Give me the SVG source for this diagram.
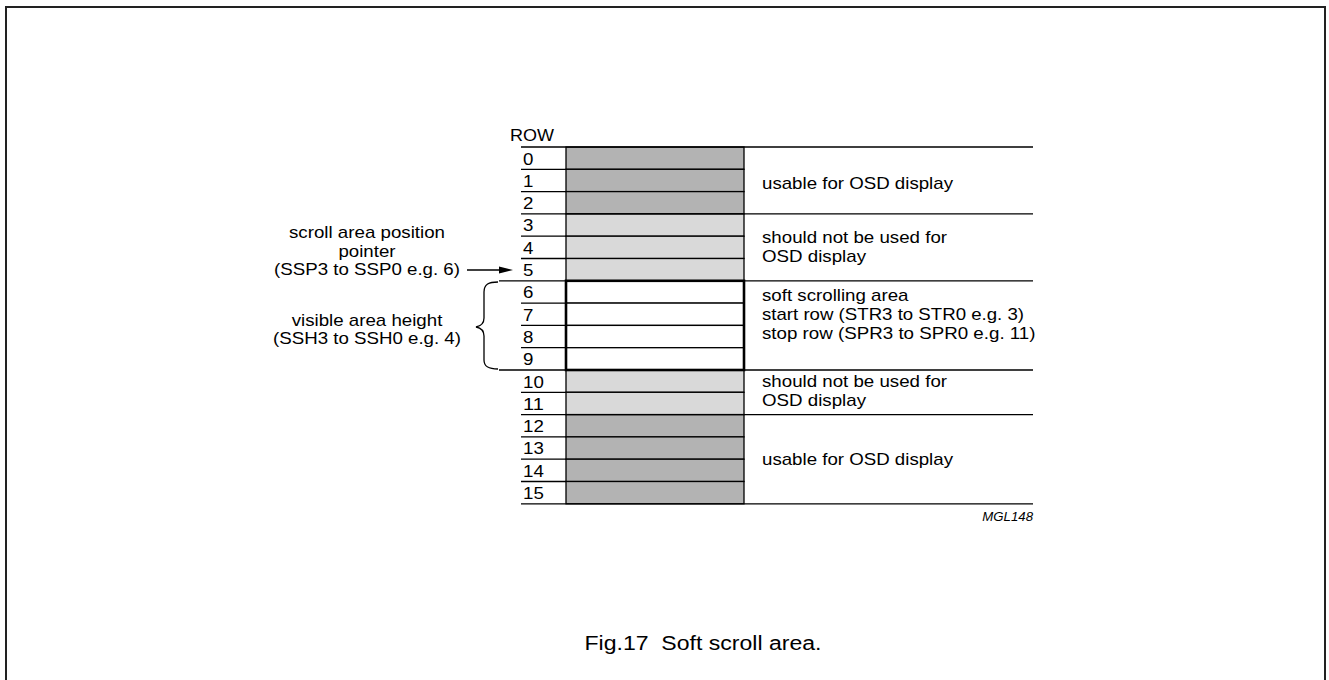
<svg xmlns="http://www.w3.org/2000/svg" width="1329" height="680" viewBox="0 0 1329 680">
<style>
text{font-family:"Liberation Sans",Arial,sans-serif;font-size:17px;fill:#000}
.ln{stroke:#000;stroke-width:1.3;fill:none}
.dk{fill:#b3b3b3;stroke:#000;stroke-width:1.3}
.lt{fill:#d9d9d9;stroke:#000;stroke-width:1.3}
.wh{fill:#fff;stroke:#000;stroke-width:1.3}
.mid{text-anchor:middle}
</style>
<rect width="1329" height="680" fill="#fff"/>
<path d="M6,680 V7 H1325 V680" fill="none" stroke="#222" stroke-width="2"/>

<g id="rows">
<text x="510" y="141" textLength="44" lengthAdjust="spacingAndGlyphs">ROW</text>
<rect class="dk" x="566" y="147" width="178" height="22.3"/>
<rect class="dk" x="566" y="169.3" width="178" height="22.3"/>
<rect class="dk" x="566" y="191.6" width="178" height="22.3"/>
<rect class="lt" x="566" y="213.9" width="178" height="22.3"/>
<rect class="lt" x="566" y="236.2" width="178" height="22.3"/>
<rect class="lt" x="566" y="258.5" width="178" height="22.3"/>
<rect class="wh" x="566" y="280.8" width="178" height="22.3"/>
<rect class="wh" x="566" y="303.1" width="178" height="22.3"/>
<rect class="wh" x="566" y="325.4" width="178" height="22.3"/>
<rect class="wh" x="566" y="347.7" width="178" height="22.3"/>
<rect class="lt" x="566" y="370" width="178" height="22.3"/>
<rect class="lt" x="566" y="392.3" width="178" height="22.3"/>
<rect class="dk" x="566" y="414.6" width="178" height="22.3"/>
<rect class="dk" x="566" y="436.9" width="178" height="22.3"/>
<rect class="dk" x="566" y="459.2" width="178" height="22.3"/>
<rect class="dk" x="566" y="481.5" width="178" height="22.3"/>
<rect x="566" y="280.8" width="178" height="89.2" fill="none" stroke="#000" stroke-width="2.6"/>
<path class="ln" d="M521,147 H1033 M521,169.3 H566 M521,191.6 H566 M521,213.9 H1033 M521,236.2 H566 M521,258.5 H566 M499,280.8 H1033 M521,303.1 H566 M521,325.4 H566 M521,347.7 H566 M499,370 H1033 M521,392.3 H566 M521,414.6 H1033 M521,436.9 H566 M521,459.2 H566 M521,481.5 H566 M521,503.8 H1033"/>
<text x="523" y="164.5" textLength="10.4" lengthAdjust="spacingAndGlyphs">0</text>
<text x="523" y="186.8" textLength="10.4" lengthAdjust="spacingAndGlyphs">1</text>
<text x="523" y="209.1" textLength="10.4" lengthAdjust="spacingAndGlyphs">2</text>
<text x="523" y="231.4" textLength="10.4" lengthAdjust="spacingAndGlyphs">3</text>
<text x="523" y="253.7" textLength="10.4" lengthAdjust="spacingAndGlyphs">4</text>
<text x="523" y="276" textLength="10.4" lengthAdjust="spacingAndGlyphs">5</text>
<text x="523" y="298.3" textLength="10.4" lengthAdjust="spacingAndGlyphs">6</text>
<text x="523" y="320.6" textLength="10.4" lengthAdjust="spacingAndGlyphs">7</text>
<text x="523" y="342.9" textLength="10.4" lengthAdjust="spacingAndGlyphs">8</text>
<text x="523" y="365.2" textLength="10.4" lengthAdjust="spacingAndGlyphs">9</text>
<text x="523" y="387.5" textLength="20.8" lengthAdjust="spacingAndGlyphs">10</text>
<text x="523" y="409.8" textLength="20.8" lengthAdjust="spacingAndGlyphs">11</text>
<text x="523" y="432.1" textLength="20.8" lengthAdjust="spacingAndGlyphs">12</text>
<text x="523" y="454.4" textLength="20.8" lengthAdjust="spacingAndGlyphs">13</text>
<text x="523" y="476.7" textLength="20.8" lengthAdjust="spacingAndGlyphs">14</text>
<text x="523" y="499" textLength="20.8" lengthAdjust="spacingAndGlyphs">15</text>
</g>

<g id="labels-right">
<text x="762" y="189" textLength="191" lengthAdjust="spacingAndGlyphs">usable for OSD display</text>
<text x="762" y="243" textLength="185" lengthAdjust="spacingAndGlyphs">should not be used for</text>
<text x="762" y="262" textLength="104" lengthAdjust="spacingAndGlyphs">OSD display</text>
<text x="762" y="300.5" textLength="146.5" lengthAdjust="spacingAndGlyphs">soft scrolling area</text>
<text x="762" y="319.5" textLength="262" lengthAdjust="spacingAndGlyphs">start row (STR3 to STR0 e.g. 3)</text>
<text x="762" y="338.5" textLength="273.5" lengthAdjust="spacingAndGlyphs">stop row (SPR3 to SPR0 e.g. 11)</text>
<text x="762" y="387" textLength="185" lengthAdjust="spacingAndGlyphs">should not be used for</text>
<text x="762" y="406" textLength="104" lengthAdjust="spacingAndGlyphs">OSD display</text>
<text x="762" y="465" textLength="191" lengthAdjust="spacingAndGlyphs">usable for OSD display</text>
<text x="1033" y="521" text-anchor="end" font-style="italic" textLength="50.7" lengthAdjust="spacingAndGlyphs" style="font-size:12.5px">MGL148</text>
</g>

<g id="pointer">
<text class="mid" x="367" y="238" textLength="156" lengthAdjust="spacingAndGlyphs">scroll area position</text>
<text class="mid" x="367" y="256.5" textLength="57" lengthAdjust="spacingAndGlyphs">pointer</text>
<text class="mid" x="367" y="275" textLength="186" lengthAdjust="spacingAndGlyphs">(SSP3 to SSP0 e.g. 6)</text>
</g>

<g id="visible-height">
<text class="mid" x="367" y="325.5" textLength="150.7" lengthAdjust="spacingAndGlyphs">visible area height</text>
<text class="mid" x="367" y="344" textLength="188" lengthAdjust="spacingAndGlyphs">(SSH3 to SSH0 e.g. 4)</text>
</g>

<g id="connectors">
<line class="ln" x1="467" y1="270" x2="503" y2="270"/>
<polygon points="513,270 499,266.5 499,273.5" fill="#000"/>
<path class="ln" d="M498,282 C489,282 484,284 484,292 L484,318 C484,323 481,326 476,327 C481,328 484,331 484,336 L484,360 C484,367 489,369 498,369"/>
</g>

<text x="703" y="650" class="mid" xml:space="preserve" textLength="237" lengthAdjust="spacingAndGlyphs" style="font-size:20px;white-space:pre">Fig.17  Soft scroll area.</text>
</svg>
